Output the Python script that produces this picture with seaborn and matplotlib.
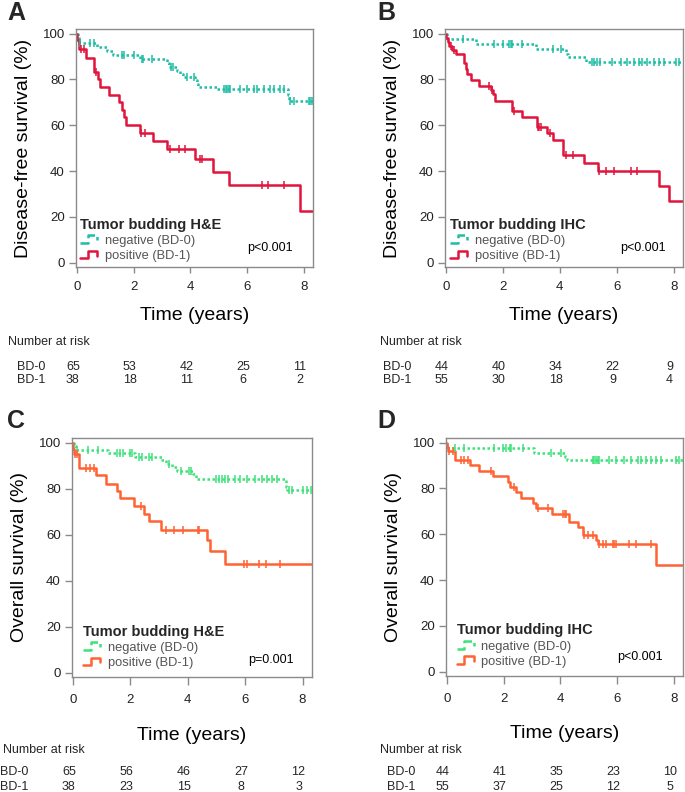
import numpy as np
import pandas as pd
import seaborn as sns
import matplotlib
matplotlib.use("Agg")
import matplotlib.pyplot as plt
import matplotlib.transforms as mtransforms
from matplotlib.lines import Line2D
from matplotlib.legend_handler import HandlerLine2D

# ---- data (time in years, survival in %) ----
follow_up_end = 8.4
risk_times = [0, 2, 4, 6, 8]

# A: disease-free survival, tumor budding H&E
a_neg_t = [0, 0.03, 0.06, 0.09, 0.70, 1.06, 1.29, 2.24, 3.18, 3.24, 3.53, 3.65, 3.76, 4.18, 4.24, 4.29, 4.94, 7.44, 7.48]
a_neg_s = [100, 98.5, 97.0, 95.9, 94.2, 92.5, 90.8, 88.9, 87.2, 85.5, 83.8, 82.4, 81.2, 79.6, 78.0, 76.7, 75.6, 73.0, 70.7]
a_neg_cens = [0.12, 0.47, 0.59, 1.59, 1.65, 2.0, 2.29, 2.35, 2.65, 3.32, 3.39, 3.88, 4.12, 5.2, 5.25, 5.3, 5.35,
              5.4, 5.76, 6.0, 6.24, 6.35, 6.59, 6.82, 6.94, 7.18, 7.29, 7.53, 7.65, 8.18, 8.24, 8.29]
a_pos_t = [0, 0.02, 0.07, 0.33, 0.59, 0.73, 0.82, 1.15, 1.48, 1.58, 1.66, 1.74, 2.24, 2.68, 3.18, 4.18, 4.82, 5.35, 7.88]
a_pos_s = [100, 97.4, 93.4, 89.4, 83.1, 80.2, 76.7, 73.3, 70.0, 66.8, 63.6, 60.1, 56.6, 52.9, 49.6, 45.2, 39.5, 33.8, 22.7]
a_pos_cens = [0.15, 0.24, 0.67, 2.27, 2.41, 3.27, 3.59, 3.82, 4.33, 4.41, 6.53, 6.76, 7.29]
a_risk_bd0 = [65, 53, 42, 25, 11]
a_risk_bd1 = [38, 18, 11, 6, 2]

# B: disease-free survival, tumor budding IHC
b_neg_t = [0, 0.03, 1.05, 3.16, 4.22, 4.29, 4.92]
b_neg_s = [100, 97.7, 95.5, 93.3, 91.3, 89.9, 87.5]
b_neg_cens = [0.59, 1.7, 2.0, 2.22, 2.28, 2.34, 2.67, 3.75, 4.04, 5.15, 5.2, 5.3, 5.4, 5.85, 6.15, 6.38, 6.6,
              6.8, 6.9, 7.08, 7.3, 7.5, 7.67, 8.08, 8.2]
b_pos_t = [0, 0.02, 0.06, 0.12, 0.23, 0.35, 0.62, 0.70, 0.76, 0.88, 1.17, 1.58, 1.64, 1.73, 2.31, 2.67, 3.19,
           3.57, 3.75, 4.12, 4.86, 5.35, 7.47, 7.85]
b_pos_s = [100, 98.2, 96.4, 94.5, 92.7, 90.9, 87.0, 84.5, 82.2, 79.9, 77.3, 75.5, 73.8, 70.4, 66.0, 63.6, 59.0,
           56.6, 53.6, 47.0, 43.4, 40.2, 33.5, 26.8]
b_pos_cens = [0.18, 0.29, 1.52, 1.62, 2.39, 3.22, 3.28, 3.34, 3.65, 4.22, 4.45, 5.39, 5.62, 5.91, 6.5, 6.73]
b_risk_bd0 = [44, 40, 34, 22, 9]
b_risk_bd1 = [55, 30, 18, 9, 4]

# C: overall survival, tumor budding H&E
c_neg_t = [0, 0.05, 0.12, 1.22, 2.17, 3.11, 3.23, 3.46, 3.64, 4.17, 4.29, 7.41, 7.47]
c_neg_s = [100, 98.5, 97.0, 95.4, 93.8, 92.3, 90.7, 89.2, 87.7, 86.2, 84.1, 80.8, 79.2]
c_neg_cens = [0.16, 0.52, 0.87, 1.54, 1.64, 1.76, 1.99, 2.05, 2.29, 2.4, 2.64, 2.76, 3.35, 3.76, 4.05, 4.11,
              5.0, 5.1, 5.2, 5.3, 5.4, 5.64, 5.82, 6.05, 6.35, 6.58, 6.76, 6.94, 7.12, 7.52, 7.62, 8.0, 8.17, 8.29]
c_pos_t = [0, 0.01, 0.03, 0.22, 0.81, 1.17, 1.55, 1.64, 2.14, 2.48, 2.66, 3.07, 4.66, 4.78, 5.31]
c_pos_s = [100, 97.4, 95.0, 89.0, 85.8, 82.2, 79.0, 76.0, 72.5, 69.0, 65.8, 62.2, 57.5, 52.8, 47.3]
c_pos_cens = [0.07, 0.16, 0.46, 0.61, 0.75, 2.38, 3.23, 3.52, 3.82, 4.35, 4.41, 5.96, 6.05, 6.47, 6.73, 7.23]
c_risk_bd0 = [65, 56, 46, 27, 12]
c_risk_bd1 = [38, 23, 15, 8, 3]

# D: overall survival, tumor budding IHC
d_neg_t = [0, 0.01, 3.09, 4.15, 4.23]
d_neg_s = [100, 97.7, 95.3, 93.5, 92.3]
d_neg_cens = [0.27, 0.59, 1.68, 1.97, 2.09, 2.21, 2.27, 2.68, 3.68, 4.03, 5.15, 5.2, 5.27, 5.33, 5.38, 5.73,
              5.97, 6.26, 6.49, 6.73, 6.85, 7.02, 7.2, 7.38, 7.55, 8.08, 8.2]
d_pos_t = [0, 0.01, 0.04, 0.27, 0.80, 1.15, 1.62, 2.15, 2.23, 2.44, 2.62, 3.03, 3.15, 3.71, 4.32, 4.62, 4.79,
           5.26, 5.32, 7.36]
d_pos_s = [100, 98.2, 96.4, 92.2, 90.0, 87.5, 85.5, 83.0, 80.8, 78.5, 76.0, 73.7, 71.3, 68.8, 65.5, 63.0, 59.5,
           57.5, 55.8, 46.5]
d_pos_cens = [0.09, 0.21, 0.5, 0.62, 0.74, 1.56, 2.38, 3.2, 3.56, 4.09, 4.15, 4.21, 4.85, 4.98, 5.15, 5.38,
              5.5, 5.62, 5.85, 5.91, 5.97, 6.44, 6.67, 7.2]
d_risk_bd0 = [44, 41, 35, 23, 10]
d_risk_bd1 = [55, 37, 25, 12, 5]

TEAL, RED = "#1fbfa5", "#e0143c"
GREEN, ORANGE = "#3ee27a", "#ff6233"
SPINE = "#8a8a8a"

sns.set_theme(style="white")
plt.rcParams["font.family"] = ["Liberation Sans", "DejaVu Sans"]

W, H = 685, 792
fig = plt.figure(figsize=(W / 100, H / 100), dpi=100)


def px_rect(left, top, right, bottom):
    return [left / W, 1 - bottom / H, (right - left) / W, (bottom - top) / H]


class StepHandler(HandlerLine2D):
    """Draws the small Kaplan-Meier step glyph used in the legend"""
    def create_artists(self, legend, orig_handle, xdescent, ydescent, width, height, fontsize, trans):
        xs = np.array([0, 0.45, 0.45, 1.0, 1.0]) * width - xdescent
        ys = np.array([0.1, 0.1, 0.95, 0.95, 0.4]) * height - ydescent
        line = Line2D(xs, ys, color=orig_handle.get_color(), linestyle=orig_handle.get_linestyle(),
                      linewidth=orig_handle.get_linewidth(), transform=trans)
        return [line]


def draw_km(ax, times, surv, cens, color, dotted):
    steps = pd.DataFrame({"time": list(times) + [follow_up_end], "surv": list(surv) + [surv[-1]]})
    sns.lineplot(data=steps, x="time", y="surv", drawstyle="steps-post", estimator=None, sort=False,
                 color=color, lw=1.8, linestyle=(0, (1, 1)) if dotted else "-", ax=ax)
    idx = np.searchsorted(times, cens, side="right") - 1
    marks = pd.DataFrame({"time": cens, "surv": np.asarray(surv)[idx]})
    sns.scatterplot(data=marks, x="time", y="surv", marker="|", s=40, color=color,
                    linewidth=1.1, ax=ax, zorder=3)


panels = [
    dict(letter="A", rect=(76, 29, 313, 267), letter_xy=(16, 13),
         ylabel="Disease-free survival (%)", title="Tumor budding H&E", p="p<0.001", p_xy=(0.82, 0.08),
         neg=(a_neg_t, a_neg_s, a_neg_cens), pos=(a_pos_t, a_pos_s, a_pos_cens), colors=(TEAL, RED),
         leg_xy=(0.017, 0.02), risk=(a_risk_bd0, a_risk_bd1), nar_x=8, lab_x=17, rows=(342, 367, 380),
         xlabelpad=10, xtick=(4, 6)),
    dict(letter="B", rect=(445, 29, 683, 267), letter_xy=(386, 13),
         ylabel="Disease-free survival (%)", title="Tumor budding IHC", p="p<0.001", p_xy=(0.83, 0.08),
         neg=(b_neg_t, b_neg_s, b_neg_cens), pos=(b_pos_t, b_pos_s, b_pos_cens), colors=(TEAL, RED),
         leg_xy=(0.021, 0.02), risk=(b_risk_bd0, b_risk_bd1), nar_x=380, lab_x=383, rows=(342, 367, 380),
         xlabelpad=10, xtick=(4, 6)),
    dict(letter="C", rect=(72, 438, 312, 677), letter_xy=(16, 421),
         ylabel="Overall survival (%)", title="Tumor budding H&E", p="p=0.001", p_xy=(0.83, 0.071),
         neg=(c_neg_t, c_neg_s, c_neg_cens), pos=(c_pos_t, c_pos_s, c_pos_cens), colors=(GREEN, ORANGE),
         leg_xy=(0.046, 0.033), risk=(c_risk_bd0, c_risk_bd1), nar_x=3, lab_x=0, rows=(750, 772, 787),
         xlabelpad=15, xtick=(6, 6)),
    dict(letter="D", rect=(446, 438, 683, 676), letter_xy=(386, 421),
         ylabel="Overall survival (%)", title="Tumor budding IHC", p="p<0.001", p_xy=(0.82, 0.08),
         neg=(d_neg_t, d_neg_s, d_neg_cens), pos=(d_pos_t, d_pos_s, d_pos_cens), colors=(GREEN, ORANGE),
         leg_xy=(0.046, 0.034), risk=(d_risk_bd0, d_risk_bd1), nar_x=380, lab_x=387, rows=(750, 772, 787),
         xlabelpad=15, xtick=(6, 6)),
]

for pan in panels:
    ax = fig.add_axes(px_rect(*pan["rect"]))
    neg_color, pos_color = pan["colors"]
    draw_km(ax, *pan["neg"], neg_color, dotted=True)
    draw_km(ax, *pan["pos"], pos_color, dotted=False)

    ax.set_xlim(-0.03, 8.33)
    ax.set_ylim(-1.9, 102)
    ax.set_xticks(risk_times)
    ax.set_yticks([0, 20, 40, 60, 80, 100])
    for sp in ax.spines.values():
        sp.set_color(SPINE)
        sp.set_linewidth(1.0)
    tick_len, tick_pad = pan["xtick"]
    ax.tick_params(axis="x", bottom=True, direction="out", length=tick_len, width=1, pad=tick_pad,
                   color=SPINE, labelsize=9.5, labelcolor="#222222")
    ax.tick_params(axis="y", left=True, direction="out", length=5, width=1, pad=3,
                   color=SPINE, labelsize=9.5, labelcolor="#222222")
    ax.set_xlabel("Time (years)", fontsize=14, labelpad=pan["xlabelpad"], color="black")
    ax.set_ylabel(pan["ylabel"], fontsize=14, labelpad=8, color="black")

    handles = [Line2D([], [], color=neg_color, lw=1.8, linestyle=(0, (1, 1))),
               Line2D([], [], color=pos_color, lw=1.8)]
    leg = ax.legend(handles, ["negative (BD-0)", "positive (BD-1)"], title=pan["title"],
                    loc="lower left", bbox_to_anchor=pan["leg_xy"], frameon=False, borderpad=0,
                    borderaxespad=0, fontsize=9.3, handlelength=1.3, handletextpad=0.6,
                    labelspacing=0.25, alignment="left",
                    title_fontproperties={"weight": "bold", "size": 10.5},
                    handler_map={Line2D: StepHandler()})
    for txt in leg.get_texts():
        txt.set_color("#555555")

    ax.text(*pan["p_xy"], pan["p"], transform=ax.transAxes, ha="center", va="center",
            fontsize=9, color="black")

    fig.text(pan["letter_xy"][0] / W, 1 - pan["letter_xy"][1] / H, pan["letter"], fontsize=18,
             fontweight="bold", ha="center", va="center")

    # number at risk table
    y_nar, y_bd0, y_bd1 = pan["rows"]
    fig.text(pan["nar_x"] / W, 1 - y_nar / H, "Number at risk", fontsize=9, ha="left", va="center")
    shift = mtransforms.ScaledTranslation(-4 / 100, 0, fig.dpi_scale_trans)
    blend = mtransforms.blended_transform_factory(ax.transData, fig.transFigure) + shift
    for row_y, row_label, counts in [(y_bd0, "BD-0", pan["risk"][0]), (y_bd1, "BD-1", pan["risk"][1])]:
        fig.text(pan["lab_x"] / W, 1 - row_y / H, row_label, fontsize=9, ha="left", va="center")
        for t, n in zip(risk_times, counts):
            ax.text(t, 1 - row_y / H, str(n), transform=blend, fontsize=9, ha="center", va="center",
                    clip_on=False)

fig.savefig("out.png", dpi=100)
plt.close(fig)
